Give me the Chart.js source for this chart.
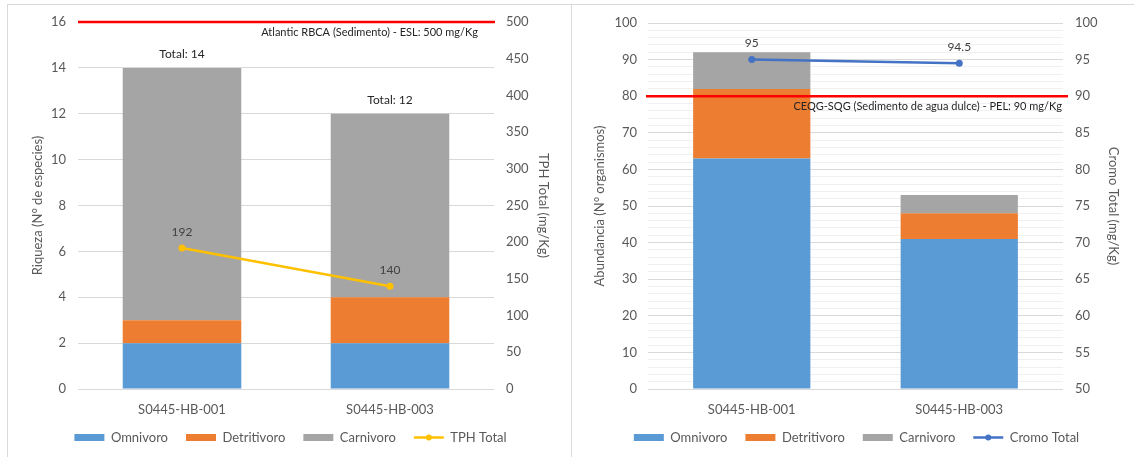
<!DOCTYPE html>
<html lang="es">
<head>
<meta charset="utf-8">
<title>Riqueza y abundancia</title>
<script src="https://cdn.jsdelivr.net/npm/chart.js@4"></script>
<style>
  body { margin: 0; background: #fff; width: 1134px; height: 457px; overflow: hidden; position: relative; }
  .marco { position: absolute; border: 1px solid #d9d9d9; }
  canvas { position: absolute; top: 0; }
</style>
</head>
<body>
<div class="marco" style="left:7px; top:4px; width:563px; height:470px;"></div>
<div class="marco" style="left:570px; top:4px; width:580px; height:470px; border-left:none;"></div>
<canvas id="riquezaChart" style="left:0;" width="570" height="457"></canvas>
<canvas id="abundanciaChart" style="left:570px;" width="564" height="457"></canvas>

<script>
// Datos
const categorias = ['S0445-HB-001', 'S0445-HB-003'];

const riqOmnivoro = [2, 2];
const riqDetritivoro = [1, 2];
const riqCarnivoro = [11, 8];
const tphTotal = [192, 140];

const abuOmnivoro = [63, 41];
const abuDetritivoro = [19, 7];
const abuCarnivoro = [10, 5];
const cromoTotal = [95, 94.5];

const limiteTPH = 500;
const limiteCromo = 90;

const FUENTE = 'Lato, "Liberation Sans", sans-serif';
const GRIS = '#595959';

Chart.defaults.font.family = FUENTE;
Chart.defaults.font.size = 13;
Chart.defaults.color = GRIS;

// Línea límite roja + etiquetas de totales y valores
const etiquetas = {
    id: 'etiquetas',
    afterDatasetsDraw(chart, args, opts) {
        const ctx = chart.ctx;
        const area = chart.chartArea;
        ctx.save();

        const yLim = chart.scales.y1.getPixelForValue(opts.limite);
        ctx.strokeStyle = '#FF0000';
        ctx.lineWidth = 2.5;
        ctx.beginPath();
        ctx.moveTo(area.left + opts.x0, yLim);
        ctx.lineTo(area.right + opts.x1, yLim);
        ctx.stroke();

        ctx.font = '11px ' + FUENTE;
        ctx.fillStyle = '#262626';
        ctx.textAlign = 'right';
        ctx.textBaseline = 'middle';
        ctx.fillText(opts.texto, opts.xTexto, yLim + 10);

        ctx.textAlign = 'center';
        ctx.font = '12px ' + FUENTE;
        if (opts.totales) {
            chart.getDatasetMeta(2).data.forEach((bar, i) => {
                ctx.fillText('Total: ' + opts.totales[i], bar.x, bar.y - 14);
            });
        }
        ctx.fillStyle = '#404040';
        const linea = chart.getDatasetMeta(3);
        linea.data.forEach((p, i) => {
            ctx.fillText(opts.valores[i], p.x, p.y - 16);
        });

        // punto en la leyenda de la serie de línea
        const hb = chart.legend.legendHitBoxes[3];
        if (hb) {
            ctx.fillStyle = opts.colorLinea;
            ctx.beginPath();
            ctx.arc(hb.left + 15, hb.top + 6.5, 3, 0, Math.PI * 2);
            ctx.fill();
        }
        ctx.restore();
    }
};

// Ajustar la posición de la leyenda
const moverLeyenda = {
    id: 'moverLeyenda',
    afterLayout(chart, args, opts) {
        const l = chart.legend;
        l.left += opts.dx; l.right += opts.dx;
        l.top += opts.dy; l.bottom += opts.dy;
    }
};

function leyenda() {
    return {
        position: 'bottom',
        labels: {
            usePointStyle: true,
            pointStyleWidth: 30,
            boxHeight: 7,
            padding: 18,
            color: GRIS,
            generateLabels(chart) {
                return chart.data.datasets.map((ds, i) => ({
                    text: ds.label,
                    fillStyle: ds.type === 'line' ? ds.borderColor : ds.backgroundColor,
                    strokeStyle: ds.type === 'line' ? ds.borderColor : ds.backgroundColor,
                    lineWidth: ds.type === 'line' ? 2.5 : 0,
                    pointStyle: ds.type === 'line' ? 'line' : 'rect',
                    fontColor: GRIS,
                    hidden: false,
                    datasetIndex: i
                }));
            }
        }
    };
}

function barras(label, data, color, pct) {
    return {
        type: 'bar', label: label, data: data, backgroundColor: color,
        yAxisID: 'y', order: 1, barPercentage: pct, categoryPercentage: 1
    };
}

function linea(label, data, color) {
    return {
        type: 'line', label: label, data: data, borderColor: color, backgroundColor: color,
        borderWidth: 2.5, pointRadius: 3.5, pointBorderWidth: 0, pointBackgroundColor: color,
        yAxisID: 'y1', order: 0
    };
}

function ancho(w) {
    return function(scale) { scale.width = w; };
}

function ejeX() {
    return {
        stacked: true,
        grid: { display: false, drawTicks: false },
        border: { display: false },
        ticks: { padding: 13 },
        afterFit(scale) { scale.height = 27; }
    };
}

document.addEventListener('DOMContentLoaded', function() {

    // 1. Riqueza
    new Chart(document.getElementById('riquezaChart'), {
        data: {
            labels: categorias,
            datasets: [
                barras('Omnivoro', riqOmnivoro, '#5B9BD5', 0.57),
                barras('Detritivoro', riqDetritivoro, '#ED7D31', 0.57),
                barras('Carnivoro', riqCarnivoro, '#A5A5A5', 0.57),
                linea('TPH Total', tphTotal, '#FFC000')
            ]
        },
        options: {
            responsive: false,
            animation: false,
            layout: { padding: { left: 26, right: 15, top: 22, bottom: 0 } },
            plugins: {
                legend: leyenda(),
                tooltip: { enabled: false },
                moverLeyenda: { dx: 0, dy: -3 },
                etiquetas: {
                    limite: limiteTPH, x0: 0, x1: 1, xTexto: 478,
                    texto: 'Atlantic RBCA (Sedimento) - ESL: 500 mg/Kg',
                    totales: riqOmnivoro.map((v, i) => v + riqDetritivoro[i] + riqCarnivoro[i]),
                    valores: tphTotal, colorLinea: '#FFC000'
                }
            },
            scales: {
                x: ejeX(),
                y: {
                    stacked: true, min: 0, max: 16,
                    ticks: { stepSize: 2, padding: 12 },
                    grid: { color: '#D9D9D9', drawTicks: false },
                    border: { display: false },
                    title: { display: true, text: 'Riqueza (N° de especies)', color: GRIS },
                    afterFit: ancho(52)
                },
                y1: {
                    position: 'right', min: 0, max: 500,
                    ticks: { stepSize: 50, padding: 12 },
                    grid: { display: false, drawTicks: false },
                    border: { display: false },
                    title: { display: true, text: 'TPH Total (mg/Kg)', color: GRIS },
                    afterFit: ancho(61)
                }
            }
        },
        plugins: [etiquetas, moverLeyenda]
    });

    // 2. Abundancia
    new Chart(document.getElementById('abundanciaChart'), {
        data: {
            labels: categorias,
            datasets: [
                barras('Omnivoro', abuOmnivoro, '#5B9BD5', 0.565),
                barras('Detritivoro', abuDetritivoro, '#ED7D31', 0.565),
                barras('Carnivoro', abuCarnivoro, '#A5A5A5', 0.565),
                linea('Cromo Total', cromoTotal, '#4472C4')
            ]
        },
        options: {
            responsive: false,
            animation: false,
            layout: { padding: { left: 18, right: 9, top: 23, bottom: 0 } },
            plugins: {
                legend: leyenda(),
                tooltip: { enabled: false },
                moverLeyenda: { dx: 0, dy: -3 },
                etiquetas: {
                    limite: limiteCromo, x0: -2, x1: 5, xTexto: 492,
                    texto: 'CEQG-SQG (Sedimento de agua dulce) - PEL: 90 mg/Kg',
                    totales: null,
                    valores: cromoTotal, colorLinea: '#4472C4'
                }
            },
            scales: {
                x: ejeX(),
                y: {
                    stacked: true, min: 0, max: 100,
                    ticks: {
                        stepSize: 2, padding: 11, autoSkip: false,
                        callback: (v) => (v % 10 === 0 ? v : '')
                    },
                    grid: {
                        drawTicks: false,
                        color: (c) => (c.tick && c.tick.value % 10 === 0 ? '#D9D9D9' : '#F0F0F0')
                    },
                    border: { display: false },
                    title: { display: true, text: 'Abundancia (N° organismos)', color: GRIS },
                    afterFit: ancho(60)
                },
                y1: {
                    position: 'right', min: 50, max: 100,
                    ticks: { stepSize: 5, padding: 12 },
                    grid: { display: false, drawTicks: false },
                    border: { display: false },
                    title: { display: true, text: 'Cromo Total (mg/Kg)', color: GRIS },
                    afterFit: ancho(62)
                }
            }
        },
        plugins: [etiquetas, moverLeyenda]
    });
});
</script>
</body>
</html>
